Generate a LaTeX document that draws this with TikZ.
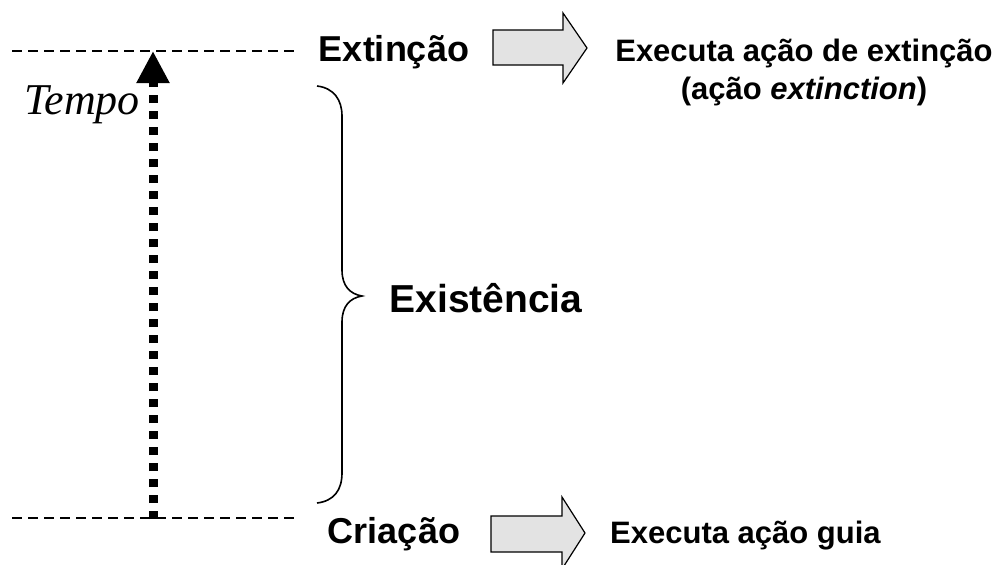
\documentclass[tikz,border=0pt]{standalone}
\usepackage{fontspec}
\setmainfont{Liberation Sans}
\newfontfamily\tempofont{Liberation Serif}
\usetikzlibrary{arrows.meta}
\begin{document}
\begin{tikzpicture}[x=1pt,y=-1pt,
  lbl/.style={inner sep=0pt,anchor=base,font=\fontsize{36}{40}\selectfont\bfseries},
  act/.style={inner sep=0pt,anchor=base,font=\fontsize{31}{38}\selectfont\bfseries},
  timeline/.style={line width=2.6pt,dash pattern=on 9.5pt off 6.5pt},
  blockarrow/.style={draw=black,line width=1.2pt,fill=gray!22,line join=miter},
  brace/.style={line width=1.6pt}]
\useasboundingbox (0,0) rectangle (999,565);
% time lines
\coordinate (tl1) at (12,51); \coordinate (tr1) at (295,51);
\coordinate (tl2) at (12,518); \coordinate (tr2) at (295,518);
\draw[timeline] (tl1) -- (tr1);
\draw[timeline] (tl2) -- (tr2);
% time arrow
\coordinate (tbot) at (153,519);
\coordinate (ttop) at (153,51);
\draw[line width=9pt,dash pattern=on 8pt off 8pt,-{Triangle[length=32pt,width=31pt]}] (tbot) -- (ttop);
\node[inner sep=0pt,anchor=base,font=\fontsize{44}{48}\selectfont\tempofont\itshape] (tempo) at (82,114) {Tempo};
% labels
\node[lbl] (ext) at (394,61) {Extinção};
\node[lbl] (cri) at (394,543) {Criação};
\node[inner sep=0pt,anchor=base,font=\fontsize{39}{44}\selectfont\bfseries] (exist) at (486,312) {Existência};
% block arrows
\draw[blockarrow] (493,30) -- (563,30) -- (563,13) -- (587,48) -- (563,83) -- (563,65) -- (493,65) -- cycle;
\draw[blockarrow] (491,516) -- (562,516) -- (562,497) -- (585,533) -- (562,569) -- (562,552) -- (491,552) -- cycle;
% actions
\node[act] (act1) at (804,61) {Executa ação de extinção};
\node[act] (act2) at (804,99) {(ação \textit{extinction})};
\node[act,anchor=base west] (act3) at (610,543) {Executa ação guia};
% brace
\draw[brace] (317,86) .. controls (334,88) and (342,100) .. (342,116) -- (342,270)
  .. controls (342,286) and (350,294) .. (362,296)
  .. controls (350,298) and (342,306) .. (342,322) -- (342,473)
  .. controls (342,490) and (334,501) .. (317,503);
\end{tikzpicture}
\end{document}
